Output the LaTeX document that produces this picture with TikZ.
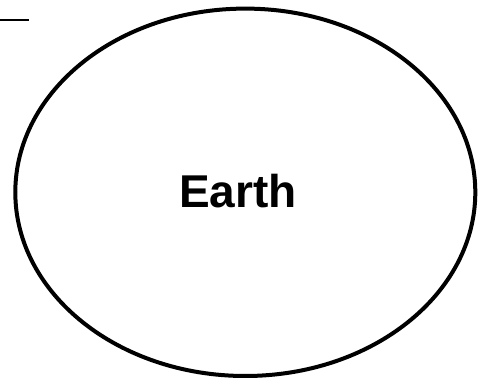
\documentclass[tikz,border=0pt]{standalone}
\usepackage{fontspec}
\setmainfont{Liberation Sans}
\usetikzlibrary{shapes.geometric}
\begin{document}
\begin{tikzpicture}[x=1pt,y=1pt,
  planet/.style={draw=black,line width=4pt,ellipse,minimum width=460pt,minimum height=367.4pt,inner sep=0pt},
  label/.style={font=\fontsize{46}{50}\selectfont\bfseries},
  stub/.style={draw=black,line width=2pt}]
\useasboundingbox (0,0) rectangle (481,382);
\node[planet] (earth) at (245.3,189.7) {};
\node[label,anchor=base] (txt) at (238,174) {Earth};
\coordinate (s1) at (0,362);
\coordinate (s2) at (29,362);
\draw[stub] (s1) -- (s2);
\end{tikzpicture}
\end{document}
